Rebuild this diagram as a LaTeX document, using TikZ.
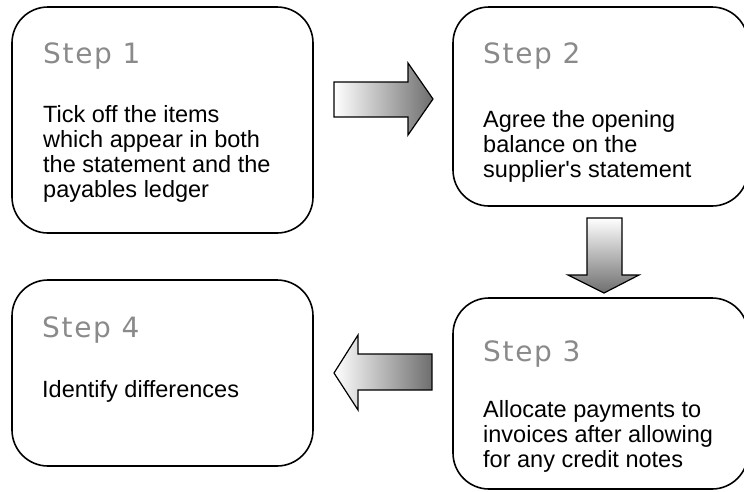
\documentclass[tikz,border=0pt]{standalone}
\usepackage{fontspec}
\setmainfont{Liberation Sans}
\newfontfamily\stepfont[LetterSpace=6]{DejaVu Sans}
\usepackage{tikz}
\usetikzlibrary{positioning,calc}

\definecolor{steptext}{HTML}{8A8A8A}
\definecolor{arrowdark}{HTML}{6E6E6E}

\tikzset{
  stepbox/.style={draw, line width=1.6pt, rounded corners=36pt, inner sep=0pt},
  steplabel/.style={anchor=base west, inner sep=0pt, text=steptext,
    font=\stepfont\fontsize{28}{30}\selectfont},
  steptext/.style={anchor=base west, inner sep=0pt, align=left,
    font=\fontsize{23.5}{24.8}\selectfont}, % base = last line
  blockarrow/.style={draw, line width=1.2pt, line join=miter}
}

\begin{document}
\begin{tikzpicture}[x=1pt, y=-1pt]
    \useasboundingbox (0,0) rectangle (744,491);

    % Boxes
    \node[stepbox, minimum width=301pt, minimum height=226pt] (s1) at (162.5,120) {};
    \node[stepbox, minimum width=295pt, minimum height=199pt] (s2) at (600.5,106.5) {};
    \node[stepbox, minimum width=295pt, minimum height=191pt] (s3) at (600.5,393.5) {};
    \node[stepbox, minimum width=301pt, minimum height=186pt] (s4) at (162.5,373) {};

    % Step 1
    \node[steplabel] (t1) at (43,63) {Step 1};
    \node[steptext] (b1) at (43,197) {Tick off the items\\which appear in both\\the statement and the\\payables ledger};

    % Step 2
    \node[steplabel] (t2) at (483,63) {Step 2};
    \node[steptext] (b2) at (483,177) {Agree the opening\\balance on the\\supplier\textquotesingle s statement};

    % Step 3
    \node[steplabel] (t3) at (483,361) {Step 3};
    \node[steptext] (b3) at (483,467) {Allocate payments to\\invoices after allowing\\for any credit notes};

    % Step 4
    \node[steplabel] (t4) at (42,337) {Step 4};
    \node[steptext] (b4) at (42,397) {Identify differences};

    % Arrows
    \shade[blockarrow, left color=white, right color=arrowdark]
      (334,82) -- (408,82) -- (408,63) -- (433,99) -- (408,135) -- (408,117) -- (334,117) -- cycle; % 1 to 2
    \shade[blockarrow, top color=white, bottom color=arrowdark]
      (587,218) -- (622,218) -- (622,275) -- (639,275) -- (604,293) -- (568,275) -- (587,275) -- cycle; % 2 to 3
    \shade[blockarrow, left color=white, right color=arrowdark]
      (432,354) -- (358,354) -- (358,335) -- (334,373) -- (358,410) -- (358,390) -- (432,390) -- cycle; % 3 to 4

\end{tikzpicture}
\end{document}
